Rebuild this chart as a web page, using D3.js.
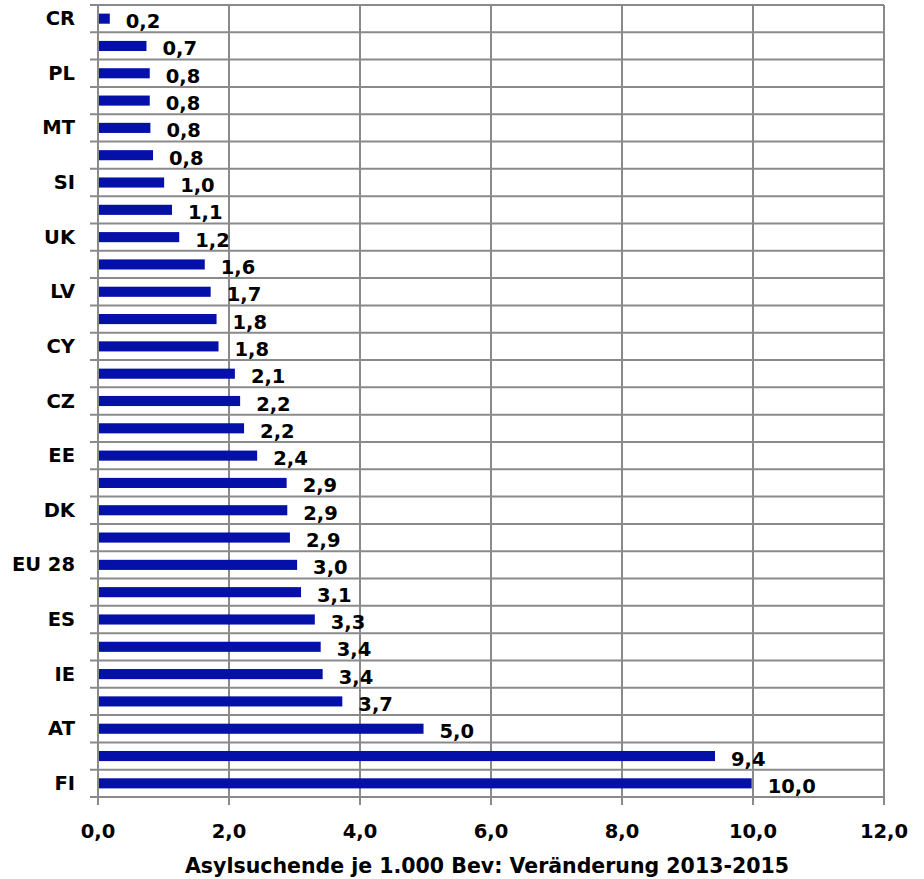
<!DOCTYPE html>
<html><head><meta charset="utf-8">
<script src="https://cdn.jsdelivr.net/npm/d3@7"></script>
<style>body{margin:0;background:#fff;} text{font-family:"DejaVu Sans",sans-serif;font-weight:bold;fill:#000;}</style>
</head><body>
<svg id="c" width="924" height="879"></svg>
<script>
// Category labels (only every other row is labelled in the original)
const categories = ["CR","","PL","","MT","","SI","","UK","","LV","","CY","","CZ","","EE","","DK","","EU 28","","ES","","IE","","AT","","FI"];
const values = [0.18,0.74,0.79,0.79,0.80,0.84,1.01,1.13,1.24,1.63,1.72,1.81,1.84,2.09,2.17,2.23,2.43,2.88,2.89,2.93,3.04,3.10,3.31,3.40,3.43,3.73,4.97,9.42,9.98];
const xTicks = [0,2,4,6,8,10,12];
const xTitle = "Asylsuchende je 1.000 Bev: Veränderung 2013-2015";

(function(){
const svg = d3.select("#c");
const mL = 98, mR = 884, mT = 5, mB = 797;
const x = d3.scaleLinear().domain([0,12]).range([mL,mR]);
const y = d3.scaleBand().domain(d3.range(categories.length)).range([mT,mB]).paddingInner(0).paddingOuter(0);
const fmt = v => d3.format(".1f")(v).replace(".", ",");
const grid = "#8a8a8a";

const hLines = d3.range(categories.length + 1).map(i => i < categories.length ? y(i) : mB);
svg.append("g").selectAll("line").data(hLines).join("line")
  .attr("x1", mL - 8).attr("x2", mR).attr("y1", d => d).attr("y2", d => d)
  .attr("stroke", grid).attr("stroke-width", 2);

svg.append("g").selectAll("line").data(xTicks).join("line")
  .attr("x1", d => x(d)).attr("x2", d => x(d)).attr("y1", mT).attr("y2", mB + 8)
  .attr("stroke", grid).attr("stroke-width", 2);

const barH = y.bandwidth() * 0.37;
svg.append("g").selectAll("rect").data(values).join("rect")
  .attr("x", x(0) + 1).attr("y", (d,i) => y(i) + (y.bandwidth() - barH) / 2)
  .attr("width", d => x(d) - x(0) - 1).attr("height", barH)
  .attr("fill", "#0510a8");

svg.append("g").selectAll("text").data(values).join("text")
  .attr("x", d => x(d) + 16).attr("y", (d,i) => y(i) + y.bandwidth()/2 + 3)
  .attr("dominant-baseline", "central").attr("font-size", 19.5)
  .text(d => fmt(d));

svg.append("g").selectAll("text").data(categories).join("text")
  .attr("x", 75).attr("y", (d,i) => y(i) + y.bandwidth()/2)
  .attr("text-anchor", "end").attr("dominant-baseline", "central").attr("font-size", 19.5)
  .text(d => d);

svg.append("g").selectAll("text").data(xTicks).join("text")
  .attr("x", d => x(d)).attr("y", 831)
  .attr("text-anchor", "middle").attr("dominant-baseline", "central").attr("font-size", 19.5)
  .text(d => fmt(d));

svg.append("text").attr("x", 487).attr("y", 866)
  .attr("text-anchor", "middle").attr("dominant-baseline", "central").attr("font-size", 20.5)
  .text(xTitle);
})();
</script>
</body></html>
